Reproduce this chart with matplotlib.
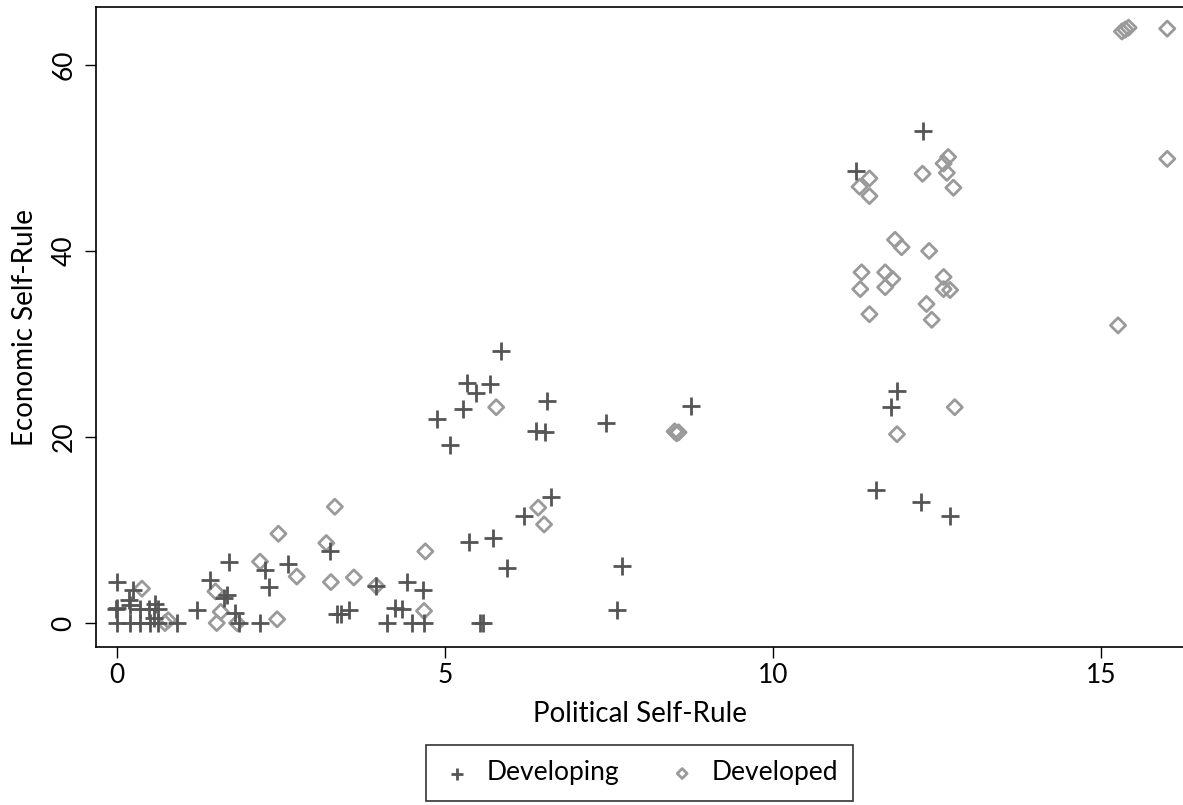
import matplotlib.pyplot as plt

plt.rcParams['font.family'] = ['Lato', 'DejaVu Sans']

# Developing regions (+)
dev_x = [0.0, 0.25, 0.18, 0.2, -0.02, 0.0, 0.35, 0.48, 0.58, 0.63, 0.56,
         0.0, 0.2, 0.35, 0.5, 0.63, 0.92,
         1.22, 1.42, 1.63, 1.68, 1.7, 1.8, 1.86, 2.18, 2.26, 2.31, 2.6,
         3.24, 3.35, 3.42, 3.53, 3.95, 4.24, 4.34, 4.42, 4.66, 4.12, 4.49, 4.68,
         5.53, 5.58, 5.36, 5.73, 5.95, 6.21, 6.62, 7.62, 7.7,
         5.85, 5.33, 5.47, 5.69, 5.28, 4.87, 5.08, 6.56, 6.39, 6.52, 7.45, 8.75,
         12.28, 11.26, 11.89, 11.8, 11.57, 12.26, 12.7]
dev_y = [4.4, 3.5, 2.5, 1.9, 1.5, 1.6, 1.5, 1.5, 2.1, 1.5, 0.5,
         0.0, 0.0, 0.0, 0.0, 0.0, 0.0,
         1.4, 4.6, 2.7, 3.0, 6.6, 1.1, 0.0, 0.0, 5.7, 3.9, 6.4,
         7.7, 1.0, 1.0, 1.4, 4.0, 1.6, 1.5, 4.4, 3.6, 0.0, 0.0, 0.0,
         0.0, 0.0, 8.7, 9.1, 5.9, 11.5, 13.5, 1.4, 6.1,
         29.2, 25.8, 24.7, 25.7, 23.0, 21.9, 19.1, 23.9, 20.6, 20.5, 21.5, 23.3,
         52.9, 48.6, 24.9, 23.2, 14.3, 13.0, 11.5]

# Developed regions (diamond)
dvd_x = [0.38, 0.73, 0.78, 1.5, 1.58, 1.52, 1.83, 2.44, 2.18, 2.74, 2.46,
         3.32, 3.19, 3.26, 3.61, 3.95, 4.7, 4.68,
         5.78, 6.42, 6.51, 8.50, 8.53, 8.56,
         11.47, 11.32, 11.47, 12.28, 12.67, 12.6, 12.65, 12.75,
         11.86, 11.96, 12.38, 11.35, 11.33, 11.71, 11.82, 11.71, 11.47,
         12.6, 12.6, 12.7, 12.34, 12.42, 12.77, 11.89,
         15.32, 15.37, 15.42, 16.01, 16.01, 15.26]
dvd_y = [3.7, 0.0, 0.3, 3.4, 1.2, 0.0, 0.0, 0.4, 6.6, 5.0, 9.6,
         12.5, 8.6, 4.4, 4.9, 4.0, 7.7, 1.3,
         23.2, 12.4, 10.6, 20.6, 20.4, 20.5,
         47.8, 46.9, 45.9, 48.3, 50.1, 49.4, 48.4, 46.8,
         41.2, 40.4, 40.0, 37.7, 35.9, 37.7, 37.0, 36.1, 33.2,
         37.2, 35.9, 35.8, 34.3, 32.6, 23.2, 20.3,
         63.6, 63.8, 64.0, 63.9, 49.9, 32.0]

fig = plt.figure(figsize=(11.83, 8.05), dpi=100)
ax = fig.add_axes([0.0812, 0.196, 0.9188, 0.795])

ax.scatter(dev_x, dev_y, marker='+', s=160, color='#555555', linewidths=2,
           label='Developing', zorder=3)
ax.scatter(dvd_x, dvd_y, marker='D', s=60, facecolors='none', edgecolors='#9a9a9a',
           linewidths=2, label='Developed', zorder=2)

ax.set_xlim(-0.32, 16.25)
ax.set_ylim(-2.6, 66.2)
ax.set_xticks([0, 5, 10, 15])
ax.set_yticks([0, 20, 40, 60])
ax.tick_params(axis='both', length=8, width=1, labelsize=19, color='black')
ax.tick_params(axis='y', pad=6)
for lab in ax.get_yticklabels():
    lab.set_rotation(90)
    lab.set_va('center')
ax.spines['right'].set_visible(False)
for s in ['left', 'bottom', 'top']:
    ax.spines[s].set_linewidth(1.2)

ax.set_xlabel('Political Self-Rule', fontsize=20, labelpad=9)
ax.set_ylabel('Economic Self-Rule', fontsize=20, labelpad=10)

leg = ax.legend(loc='upper center', bbox_to_anchor=(0.5, -0.153), ncol=2,
                fontsize=19, frameon=True, fancybox=False, edgecolor='black',
                handletextpad=0.5, columnspacing=1.8, borderpad=0.58,
                borderaxespad=0, markerscale=0.65, handlelength=1.2)
leg.get_frame().set_linewidth(1.2)

fig.savefig('out.png', dpi=100)
